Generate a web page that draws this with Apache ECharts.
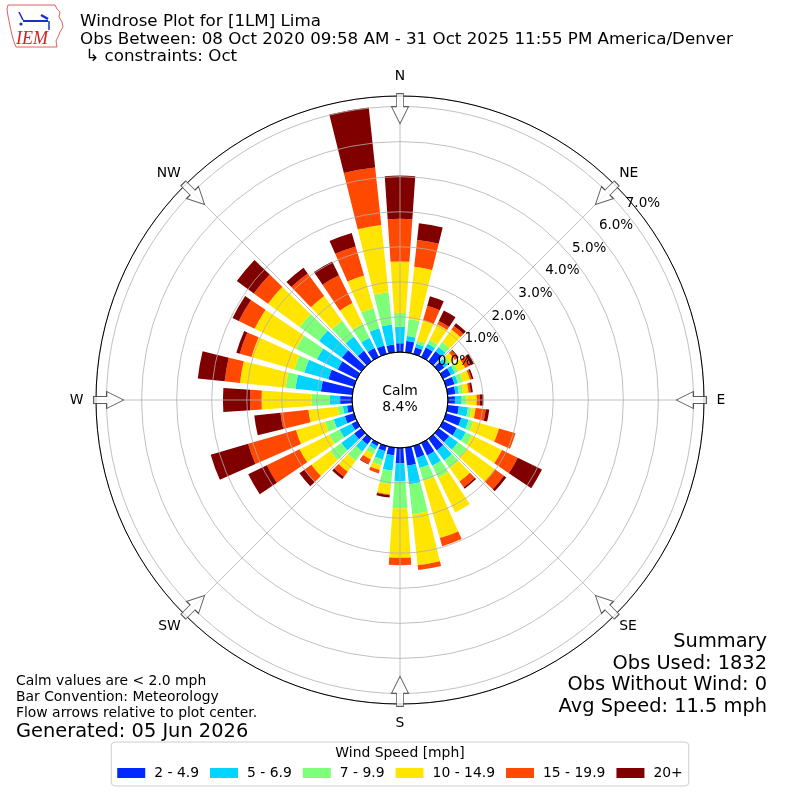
<!DOCTYPE html>
<html><head><meta charset="utf-8">
<script src="https://cdn.jsdelivr.net/npm/echarts@6/dist/echarts.min.js"></script>
<style>html,body{margin:0;padding:0;background:#fff}#c{width:800px;height:800px}</style>
</head><body><div id="c"></div>
<script>
// ---- data (percent of observations) ----
const directions = [0,10,20,30,40,50,60,70,80,90,100,110,120,130,140,150,160,170,
                    180,190,200,210,220,230,240,250,260,270,280,290,300,310,320,330,340,350];
const speedBins = ['2 - 4.9','5 - 6.9','7 - 9.9','10 - 14.9','15 - 19.9','20+'];
const binColors = ['#0028ff','#00d4ff','#7dff7a','#ffe500','#ff4800','#800000'];
const spd_2_5   = [0.25,0.32,0.20,0.30,0.35,0.20,0.25,0.25,0.22,0.20,0.32,0.45,0.44,0.37,0.41,0.39,0.35,0.51,
                   0.44,0.22,0.15,0.10,0.20,0.25,0.17,0.27,0.15,0.34,0.90,0.76,0.61,0.68,0.37,0.28,0.25,0.22];
const spd_5_7   = [0.47,0.15,0.10,0.12,0.15,0.12,0.13,0.10,0.10,0.19,0.26,0.22,0.28,0.31,0.36,0.33,0.30,0.54,
                   0.50,0.44,0.25,0.10,0.25,0.46,0.38,0.33,0.12,0.29,0.73,0.71,0.66,0.81,0.50,0.33,0.51,0.58];
const spd_7_10  = [0.40,0.48,0.10,0.12,0.18,0.10,0.10,0.15,0.12,0.14,0.10,0.14,0.20,0.31,0.26,0.38,0.38,0.86,
                   0.78,0.39,0.17,0.15,0.33,0.39,0.33,0.26,0.15,0.52,0.28,0.30,0.66,0.68,0.56,0.44,0.60,0.92];
const spd_10_15 = [1.46,1.50,0.60,0.50,0.44,0.15,0.22,0.21,0.16,0.29,0.12,0.76,0.95,0.99,0.48,1.10,1.70,1.46,
                   1.41,0.29,0.14,0.17,0.38,0.66,0.94,0.86,0.84,1.43,1.31,1.27,1.32,1.12,0.87,0.66,0.97,1.93];
const spd_15_20 = [1.22,0.77,0.43,0.10,0.12,0.10,0.18,0.05,0.06,0.09,0.29,0.49,0.50,0.32,0.20,0.00,0.24,0.14,
                   0.21,0.02,0.10,0.14,0.18,0.25,1.04,1.42,0.80,0.33,0.44,0.35,0.50,0.50,0.80,0.88,0.86,1.65];
const spd_20p   = [1.23,0.48,0.28,0.33,0.10,0.03,0.10,0.05,0.06,0.10,0.10,0.00,0.77,0.08,0.05,0.00,0.00,0.00,
                   0.00,0.07,0.00,0.02,0.08,0.17,0.59,1.11,0.75,0.77,0.77,0.10,0.20,0.60,0.20,0.44,0.40,1.72];
const ringTicks = [0,1,2,3,4,5,6,7];
const compassNames = ['N','NE','E','SE','S','SW','W','NW'];
const compassAngles = [0,45,90,135,180,225,270,315];
const calmPercent = 8.4;
const titleLines = ['Windrose Plot for [1LM] Lima',
  'Obs Between: 08 Oct 2020 09:58 AM - 31 Oct 2025 11:55 PM America/Denver',
  ' \u21b3 constraints: Oct'];
const noteLines = ['Calm values are < 2.0 mph','Bar Convention: Meteorology','Flow arrows relative to plot center.'];
const generatedText = 'Generated: 05 Jun 2026';
const summaryLines = ['Summary','Obs Used: 1832','Obs Without Wind: 0','Avg Speed: 11.5 mph'];

// ---- chart ----
const FONT = 'DejaVu Sans';
const RMAX = 7.3;
const INNER = 48, OUTER = 304;
const binData = [spd_2_5, spd_5_7, spd_7_10, spd_10_15, spd_15_20, spd_20p];
const chart = echarts.init(document.getElementById('c'));

const barSeries = speedBins.map((name, i) => ({
  name, type: 'bar', coordinateSystem: 'polar', polarIndex: 0, stack: 'wind',
  barCategoryGap: '22%', itemStyle: {color: binColors[i]}, z: 2,
  data: binData[i], animation: false
}));

const arrowPath = 'path://M5,0 L12,0 L12,13 L17,13 L8.5,30 L0,13 L5,13 Z';
const arrowSeries = {
  type: 'scatter', coordinateSystem: 'polar', polarIndex: 1, z: 6,
  symbol: arrowPath, symbolSize: [17, 30],
  itemStyle: {color: '#ffffff', borderColor: '#333333', borderWidth: 1},
  data: compassAngles.map(a => ({value: [6.94, a], symbolRotate: -a})),
  silent: true, animation: false
};

const txt = (text, x, y, size, align, lh, extra) => ({
  type: 'text', x, y, z: 10,
  style: Object.assign({text, fill: '#000', font: size + 'px "' + FONT + '"',
    textAlign: align, textVerticalAlign: 'middle', lineHeight: lh}, extra || {})
});
const compassLabel = (keepCardinal) => (v => {
  const k = compassAngles.indexOf(v);
  if (k < 0) return '';
  const cardinal = (v % 90) === 0;
  return cardinal === keepCardinal ? compassNames[k] : '';
});

chart.setOption({
  animation: false,
  backgroundColor: '#fff',
  polar: [
    {center: ['50%','50%'], radius: [INNER, OUTER]},
    {center: ['50%','50%'], radius: [INNER, OUTER]},
    {center: ['50%','50%'], radius: [INNER + 19, OUTER + 19]},
    {center: ['50%','50%'], radius: INNER},
    {center: ['50%','50%'], radius: [INNER, OUTER]}
  ],
  angleAxis: [
    {polarIndex: 0, type: 'category', data: directions, startAngle: 95, clockwise: true,
     axisLine: {show: false}, axisTick: {show: false}, axisLabel: {show: false}, splitLine: {show: false}},
    {polarIndex: 1, type: 'value', min: 0, max: 360, interval: 45, startAngle: 90, clockwise: true, z: 3,
     axisLine: {show: true, lineStyle: {color: '#000', width: 1}},
     axisTick: {show: false},
     axisLabel: {show: true, margin: 12.5, color: '#000', fontSize: 13.9, fontFamily: FONT,
       formatter: compassLabel(true)},
     splitLine: {show: true, lineStyle: {color: '#b0b0b0', width: 0.8}}},
    {polarIndex: 2, type: 'value', min: 0, max: 360, startAngle: 40, clockwise: true, show: false},
    {polarIndex: 3, type: 'value', min: 0, max: 360, startAngle: 90, z: 4,
     axisLine: {show: true, lineStyle: {color: '#000', width: 1}},
     axisTick: {show: false}, axisLabel: {show: false}, splitLine: {show: false}},
    {polarIndex: 4, type: 'value', min: 0, max: 360, interval: 45, startAngle: 90, clockwise: true, z: 3,
     axisLine: {show: false}, axisTick: {show: false}, splitLine: {show: false},
     axisLabel: {show: true, margin: 6, color: '#000', fontSize: 13.9, fontFamily: FONT,
       formatter: compassLabel(false)}}
  ],
  radiusAxis: [
    {polarIndex: 0, type: 'value', min: 0, max: RMAX,
     axisLine: {show: false}, axisTick: {show: false}, axisLabel: {show: false}, splitLine: {show: false}},
    {polarIndex: 1, type: 'value', min: 0, max: RMAX, interval: 1, z: 3,
     axisLine: {show: false}, axisTick: {show: false}, axisLabel: {show: false},
     splitLine: {show: true, lineStyle: {color: '#b0b0b0', width: 0.8}}},
    {polarIndex: 2, type: 'value', min: 0, max: RMAX, interval: 1, z: 5,
     axisLine: {show: false}, axisTick: {show: false}, splitLine: {show: false},
     axisLabel: {show: true, margin: -5.5, color: '#000', fontSize: 13.5, fontFamily: FONT,
       align: 'center', verticalAlign: 'middle',
       formatter: v => ringTicks.indexOf(v) >= 0 ? v.toFixed(1) + '%' : ''}},
    {polarIndex: 3, type: 'value', min: 0, max: 1, show: false},
    {polarIndex: 4, type: 'value', min: 0, max: 1, show: false}
  ],
  legend: {
    data: speedBins, left: 'center', top: 742, orient: 'horizontal',
    itemWidth: 28, itemHeight: 10, itemGap: 11, icon: 'rect',
    padding: [24, 6, 6, 6], borderColor: '#cccccc', borderWidth: 1, borderRadius: 4,
    backgroundColor: '#fff',
    textStyle: {fontSize: 13.9, color: '#000', fontFamily: FONT, padding: [0, 0, 0, 4]},
    selectedMode: false
  },
  series: barSeries.concat([arrowSeries]),
  graphic: [
    // IEM logo (decoration)
    {type: 'polyline', z: 10, shape: {points: [[8,5],[55,5],[57,9],[60,12],[59,17],[62,22],[63,27],[60,32],[58,37],[56,41],[57,47],[16,47],[14,42],[12,35],[10,26],[8,16],[7,9],[8,5]]},
     style: {stroke: '#e06060', lineWidth: 1, fill: null}},
    {type: 'line', z: 10, shape: {x1: 23, y1: 21, x2: 48, y2: 21}, style: {stroke: '#1530c8', lineWidth: 2}},
    {type: 'line', z: 10, shape: {x1: 19, y1: 12, x2: 23, y2: 20}, style: {stroke: '#1530c8', lineWidth: 1.5}},
    {type: 'line', z: 10, shape: {x1: 41, y1: 15, x2: 48, y2: 19}, style: {stroke: '#1530c8', lineWidth: 2.5}},
    {type: 'line', z: 10, shape: {x1: 49, y1: 21, x2: 49, y2: 30}, style: {stroke: '#1530c8', lineWidth: 1.5}},
    {type: 'circle', z: 10, shape: {cx: 21, cy: 24, r: 1.6}, style: {fill: '#1530c8'}},
    {type: 'text', z: 10, x: 16, y: 39, style: {text: 'IEM', fill: '#d42020', font: 'italic 18px "Liberation Serif"', textVerticalAlign: 'middle'}},
    // titles and notes
    txt(titleLines.join('\n'), 80, 39.5, 16.7, 'left', 17.5),
    txt(noteLines.join('\n'), 16, 697, 13.9, 'left', 16),
    txt(generatedText, 16, 731.5, 19.4, 'left', 22),
    txt(summaryLines.join('\n'), 767, 674.5, 19.4, 'right', 21.7),
    txt('Calm\n' + calmPercent.toFixed(1) + '%', 400, 399, 13.9, 'center', 16),
    txt('Wind Speed [mph]', 400, 753, 13.9, 'center', 16)
  ]
});
</script></body></html>
